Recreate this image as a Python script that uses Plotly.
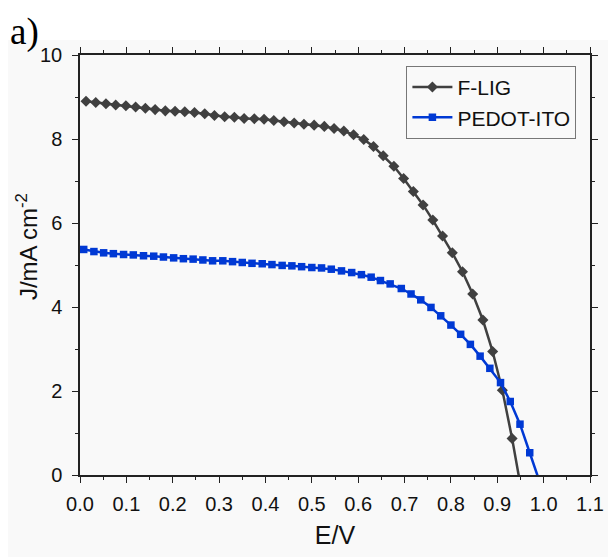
import plotly.graph_objects as go

# F-LIG
flig_e = [0.013, 0.034, 0.056, 0.077, 0.099, 0.120, 0.141, 0.162, 0.184, 0.205,
          0.226, 0.247, 0.269, 0.290, 0.312, 0.333, 0.354, 0.376, 0.397, 0.418,
          0.440, 0.462, 0.483, 0.505, 0.527, 0.548, 0.569, 0.590, 0.612, 0.633,
          0.654, 0.677, 0.698, 0.719, 0.740, 0.761, 0.782, 0.803, 0.825, 0.847,
          0.869, 0.890, 0.911, 0.932, 0.953]
flig_j = [8.90, 8.87, 8.84, 8.81, 8.79, 8.76, 8.73, 8.70, 8.67, 8.66,
          8.65, 8.63, 8.60, 8.56, 8.53, 8.52, 8.49, 8.48, 8.47, 8.44,
          8.41, 8.38, 8.35, 8.33, 8.30, 8.25, 8.19, 8.10, 7.99, 7.82,
          7.60, 7.35, 7.06, 6.75, 6.43, 6.07, 5.69, 5.29, 4.84, 4.31,
          3.69, 2.94, 2.02, 0.87, -0.43]

# PEDOT-ITO
pedot_e = [0.008, 0.030, 0.051, 0.072, 0.094, 0.115, 0.137, 0.159, 0.180, 0.202,
           0.223, 0.244, 0.265, 0.286, 0.308, 0.329, 0.350, 0.371, 0.393, 0.414,
           0.436, 0.457, 0.478, 0.500, 0.521, 0.542, 0.564, 0.586, 0.607, 0.628,
           0.648, 0.669, 0.693, 0.714, 0.735, 0.757, 0.778, 0.800, 0.821, 0.842,
           0.863, 0.884, 0.907, 0.928, 0.949, 0.970, 0.991]
pedot_j = [5.37, 5.32, 5.29, 5.27, 5.25, 5.24, 5.22, 5.21, 5.19, 5.17,
           5.15, 5.14, 5.12, 5.10, 5.10, 5.08, 5.06, 5.04, 5.03, 5.01,
           4.99, 4.98, 4.96, 4.94, 4.93, 4.90, 4.86, 4.82, 4.77, 4.71,
           4.63, 4.55, 4.44, 4.31, 4.17, 3.99, 3.79, 3.57, 3.35, 3.11,
           2.83, 2.54, 2.20, 1.75, 1.21, 0.53, -0.15]

x_ticks = [0.0, 0.1, 0.2, 0.3, 0.4, 0.5, 0.6, 0.7, 0.8, 0.9, 1.0, 1.1]
y_ticks = [0, 2, 4, 6, 8, 10]

BG = "#f9f9f9"
FONT = "Liberation Sans, Arial, sans-serif"

fig = go.Figure()
fig.add_trace(go.Scatter(
    x=flig_e, y=flig_j, name="F-LIG", mode="lines+markers",
    line=dict(color="#404040", width=2.5),
    marker=dict(symbol="diamond", size=8.5, color="#404040"),
))
fig.add_trace(go.Scatter(
    x=pedot_e, y=pedot_j, name="PEDOT-ITO", mode="lines+markers",
    line=dict(color="#0039d4", width=2.5),
    marker=dict(symbol="square", size=7.5, color="#0039d4"),
))

axis_common = dict(
    showline=True, linecolor="#222222", linewidth=1.5, mirror="ticks",
    ticks="outside", ticklen=6, tickwidth=1.3, tickcolor="#222222",
    showgrid=False, zeroline=False,
    tickfont=dict(family=FONT, size=20, color="#111111"),
)

fig.update_xaxes(
    **axis_common, ticklabelstandoff=4,
    range=[0, 1.1], tickvals=x_ticks, ticktext=[f"{v:.1f}" for v in x_ticks],
    minor=dict(dtick=0.05, tick0=0, ticks="outside", ticklen=3.5, tickwidth=1.2, tickcolor="#222222"),
    title=dict(text="E/V", font=dict(family=FONT, size=25, color="#111111"), standoff=13),
)
fig.update_yaxes(
    **axis_common, ticklabelstandoff=6,
    range=[0, 10], tickvals=y_ticks,
    minor=dict(dtick=1, tick0=0, ticks="outside", ticklen=3.5, tickwidth=1.2, tickcolor="#222222"),
)

fig.update_layout(
    width=608, height=549,
    margin=dict(l=72, r=14, t=47, b=82),
    paper_bgcolor=BG, plot_bgcolor=BG,
    showlegend=True,
    legend=dict(
        x=0.64, y=0.974, xanchor="left", yanchor="top",
        bgcolor=BG, bordercolor="#777777", borderwidth=1,
        font=dict(family=FONT, size=21, color="#111111"),
        tracegroupgap=0, itemwidth=40,
    ),
    shapes=[dict(
        type="rect", xref="paper", yref="paper",
        x0=-0.2, x1=1.1, y0=1.0357, y1=1.2,
        fillcolor="white", line=dict(width=0), layer="below",
    )],
    annotations=[
        dict(
            text="a)", xref="paper", yref="paper", x=-0.142, y=1.055,
            xanchor="left", yanchor="middle", showarrow=False,
            font=dict(family="Liberation Serif, Times New Roman, serif", size=37, color="#000000"),
        ),
        dict(
            text="J/mA cm<sup>-2</sup>", xref="paper", yref="paper", x=-0.104, y=0.545,
            xanchor="center", yanchor="middle", textangle=-90, showarrow=False,
            font=dict(family=FONT, size=24, color="#111111"),
        ),
    ],
)

fig.write_html("out.html")
